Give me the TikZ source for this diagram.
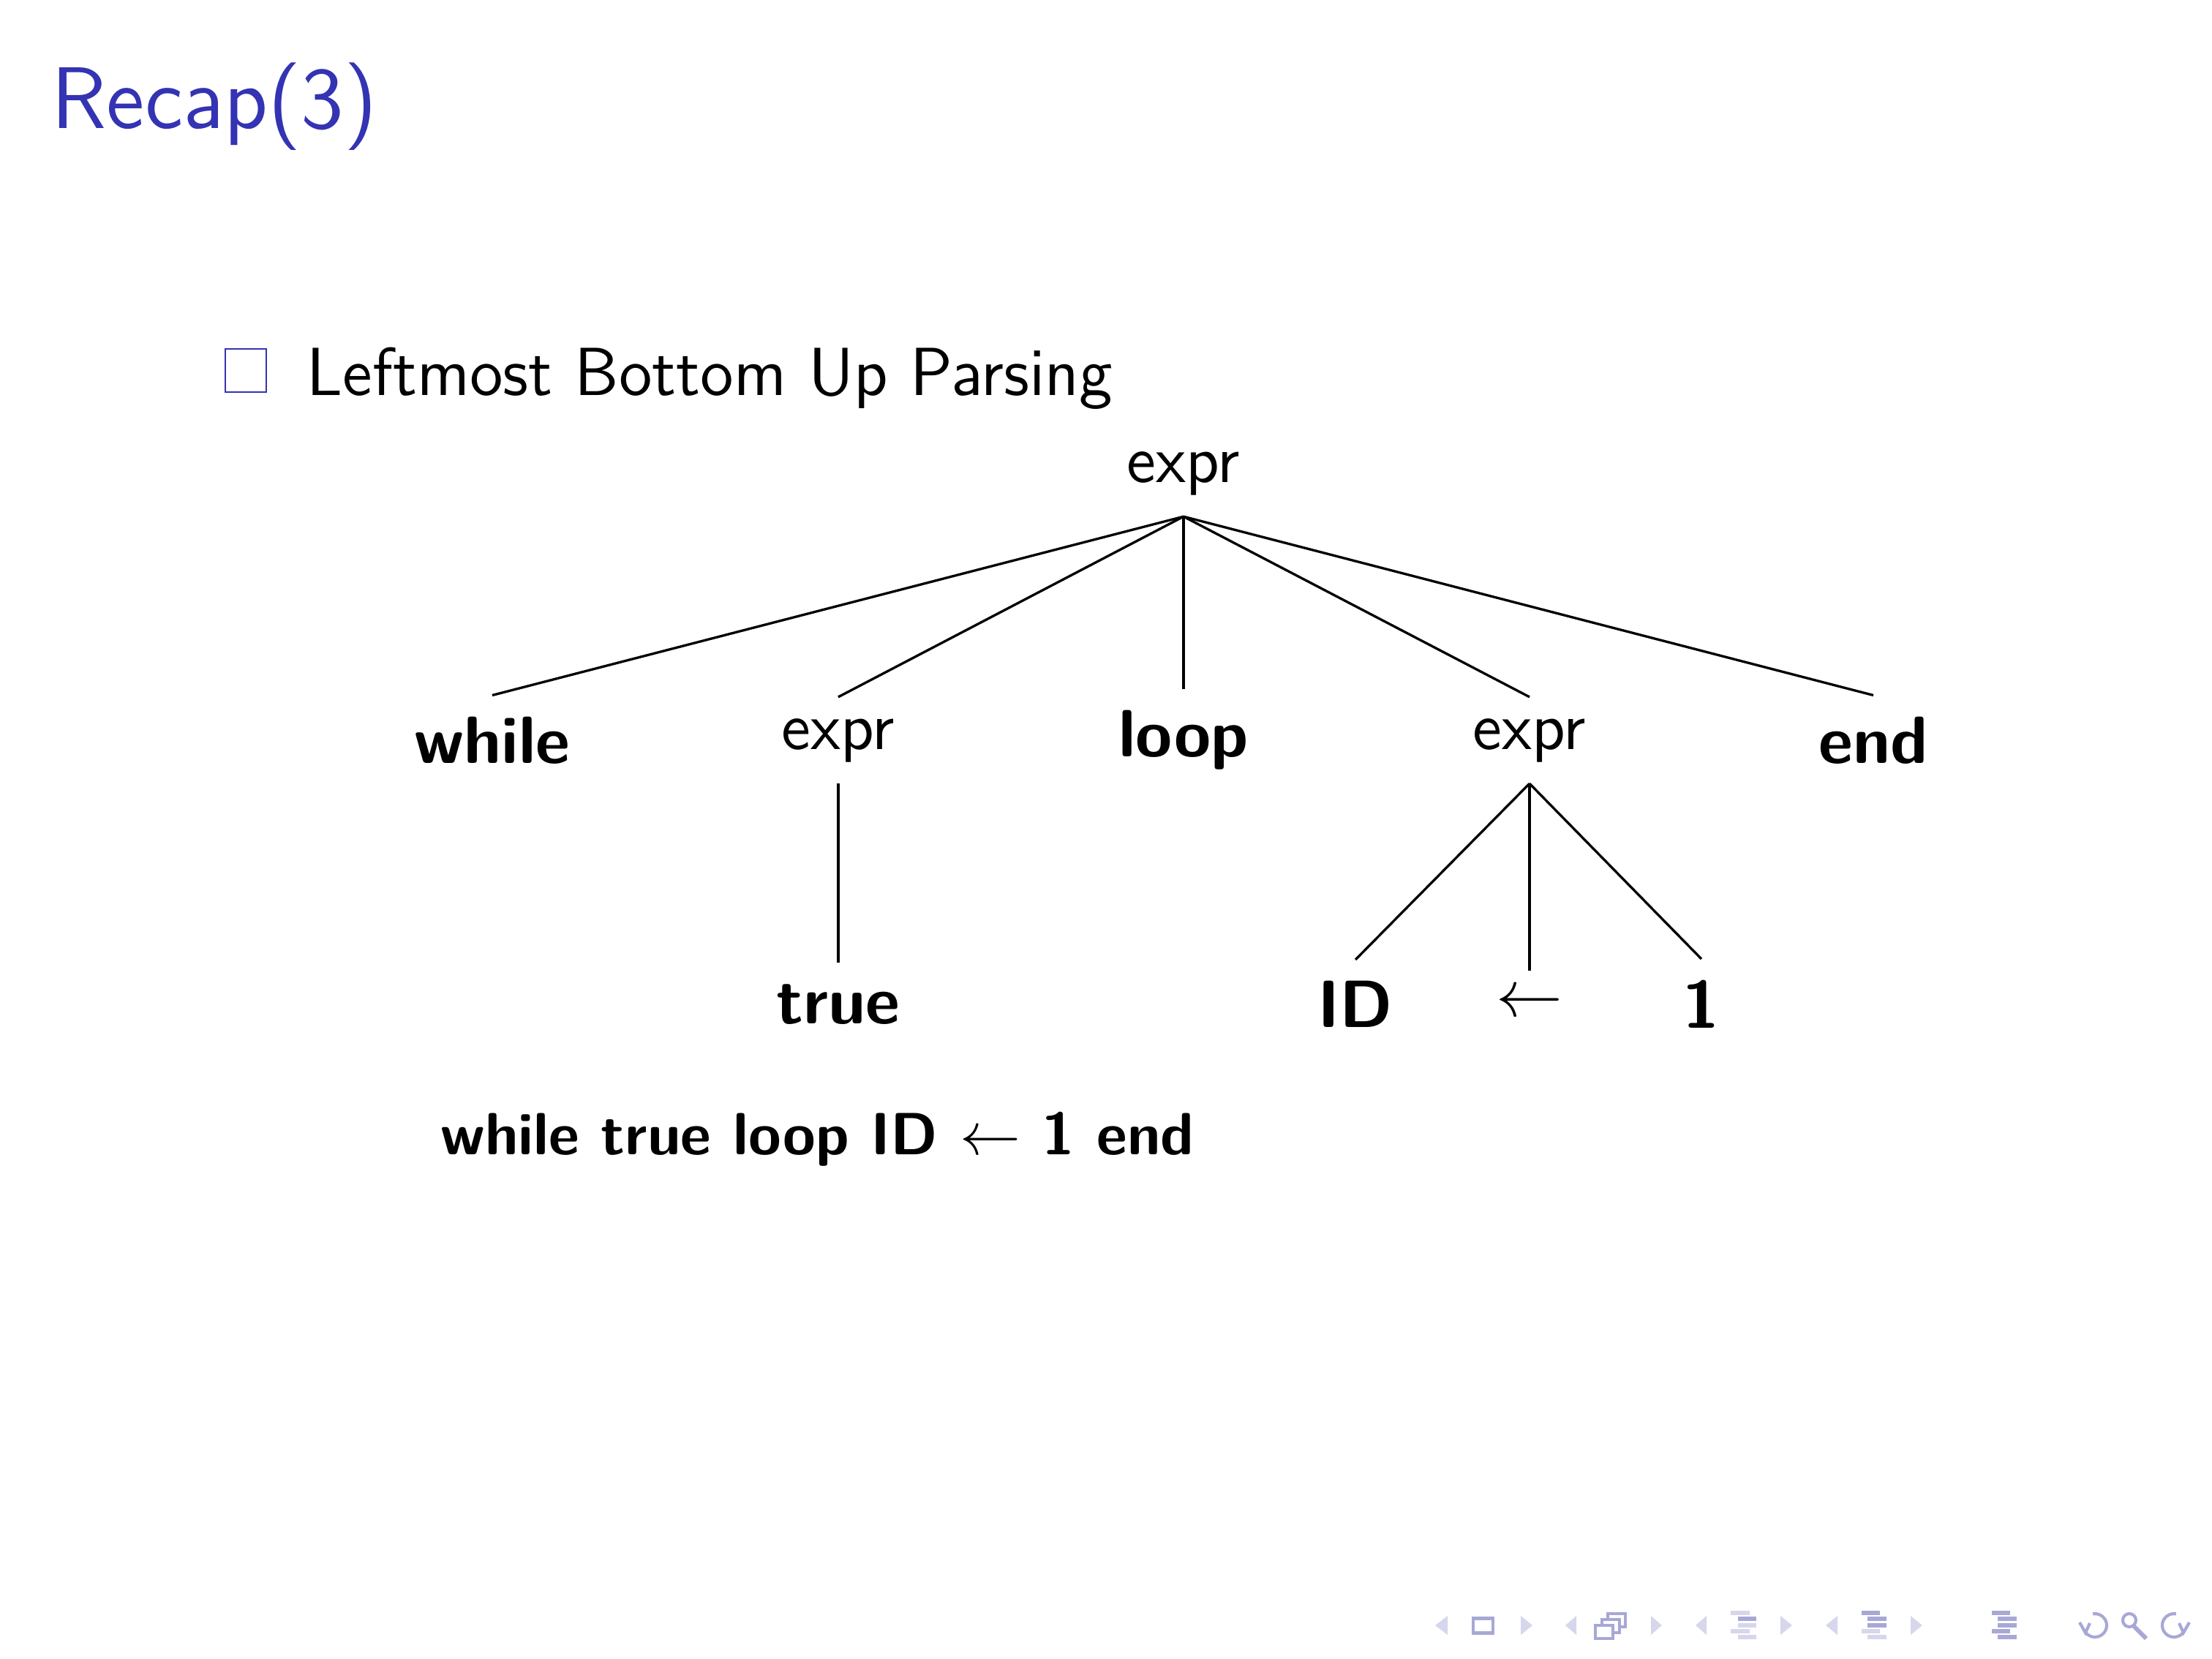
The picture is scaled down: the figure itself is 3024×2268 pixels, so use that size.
\documentclass[tikz,border=0pt]{standalone}
\usetikzlibrary{arrows.meta}
\definecolor{titleblue}{RGB}{51,51,179}
\definecolor{navdark}{RGB}{168,168,214}
\definecolor{navlight}{RGB}{214,214,236}
\tikzset{
  nt/.style={font=\fontsize{11}{13.6}\selectfont\sffamily},
  tm/.style={font=\fontsize{11}{13.6}\selectfont\sffamily\bfseries},
  edge/.style={line width=0.4pt},
  barl/.style={navlight, line width=0.65pt},
  bard/.style={navdark, line width=0.65pt},
}
\begin{document}
\begin{tikzpicture}[x=0.0423280mm, y=-0.0423280mm]
\useasboundingbox (0,0) rectangle (3024,2268);
% title
\node[anchor=base west, inner sep=0, text=titleblue, font=\fontsize{14.4}{18}\selectfont\sffamily] (title) at (69,175) {Recap(3)};
% bullet
\draw[titleblue, line width=0.35pt] (308,477) rectangle (364,536);
\node[anchor=base west, inner sep=0, font=\fontsize{11.2}{13.6}\selectfont\sffamily] (item) at (418,540) {Leftmost Bottom Up Parsing};
% tree
\node[nt] (r) at (1618,647) {expr};
\node[tm] (wh) at (673,1012) {while};
\node[nt] (e1) at (1146,1012) {expr};
\node[tm] (lp) at (1618,1012) {loop};
\node[nt] (e2) at (2091,1012) {expr};
\node[tm] (en) at (2561,1012) {end};
\node[tm] (tr) at (1146,1373) {true};
\node[tm] (id) at (1853,1373) {ID};
\node[nt] (ar) at (2091,1373) {$\leftarrow$};
\node[tm] (one) at (2326,1373) {1};
\foreach \c in {wh,e1,lp,e2,en} \draw[edge] (r.south) -- (\c.north);
\draw[edge] (e1.south) -- (tr.north);
\foreach \c in {id,ar,one} \draw[edge] (e2.south) -- (\c.north);
% sentence
\node[anchor=base west, inner sep=0, font=\fontsize{9.8}{12}\selectfont\sffamily\bfseries] (sent) at (601,1578) {while true loop ID $\leftarrow$ 1 end};
% navigation symbols
\foreach \a/\b in {1962/1979, 2140/2155, 2318/2333, 2496/2512}
  \fill[navlight] (\b,2209) -- (\a,2222) -- (\b,2235) -- cycle;
\foreach \a/\b in {2079/2095, 2257/2272, 2434/2450, 2612/2628}
  \fill[navlight] (\a,2209) -- (\b,2222) -- (\a,2235) -- cycle;
\draw[navdark, line width=0.6pt] (2014,2212) rectangle (2041,2232);
\foreach \dx/\dy in {17/0, 9/8, 0/16}
  \draw[navdark, fill=white, line width=0.5pt] (2181+\dx,2206+\dy) rectangle (2205+\dx,2224+\dy);
% section/subsection lines icons
\draw[barl] (2366,2205) -- (2392,2205);
\draw[bard] (2376,2213) -- (2401,2213);
\draw[barl] (2376,2222) -- (2401,2222);
\draw[barl] (2366,2230) -- (2392,2230);
\draw[barl] (2376,2238) -- (2401,2238);
\draw[bard] (2545,2205) -- (2570,2205);
\draw[bard] (2553,2213) -- (2579,2213);
\draw[bard] (2553,2222) -- (2579,2222);
\draw[barl] (2545,2230) -- (2570,2230);
\draw[barl] (2553,2238) -- (2579,2238);
\draw[bard] (2723,2205) -- (2748,2205);
\draw[bard] (2731,2213) -- (2757,2213);
\draw[bard] (2731,2222) -- (2757,2222);
\draw[bard] (2723,2230) -- (2748,2230);
\draw[bard] (2731,2238) -- (2757,2238);
% undo, search, redo
\draw[navdark, line width=0.5pt] (2864,2222) ++(150:16) arc[start angle=150, end angle=-100, radius=16];
\draw[navdark, line width=0.5pt] (2843,2218) -- (2851,2232) -- (2857,2219);
\draw[navdark, line width=0.5pt] (2911,2215) circle[radius=9];
\draw[navdark, line width=0.7pt] (2917,2223) -- (2934,2240);
\draw[navdark, line width=0.5pt] (2972,2222) ++(30:16) arc[start angle=30, end angle=280, radius=16];
\draw[navdark, line width=0.5pt] (2993,2218) -- (2985,2232) -- (2979,2219);
\end{tikzpicture}
\end{document}
